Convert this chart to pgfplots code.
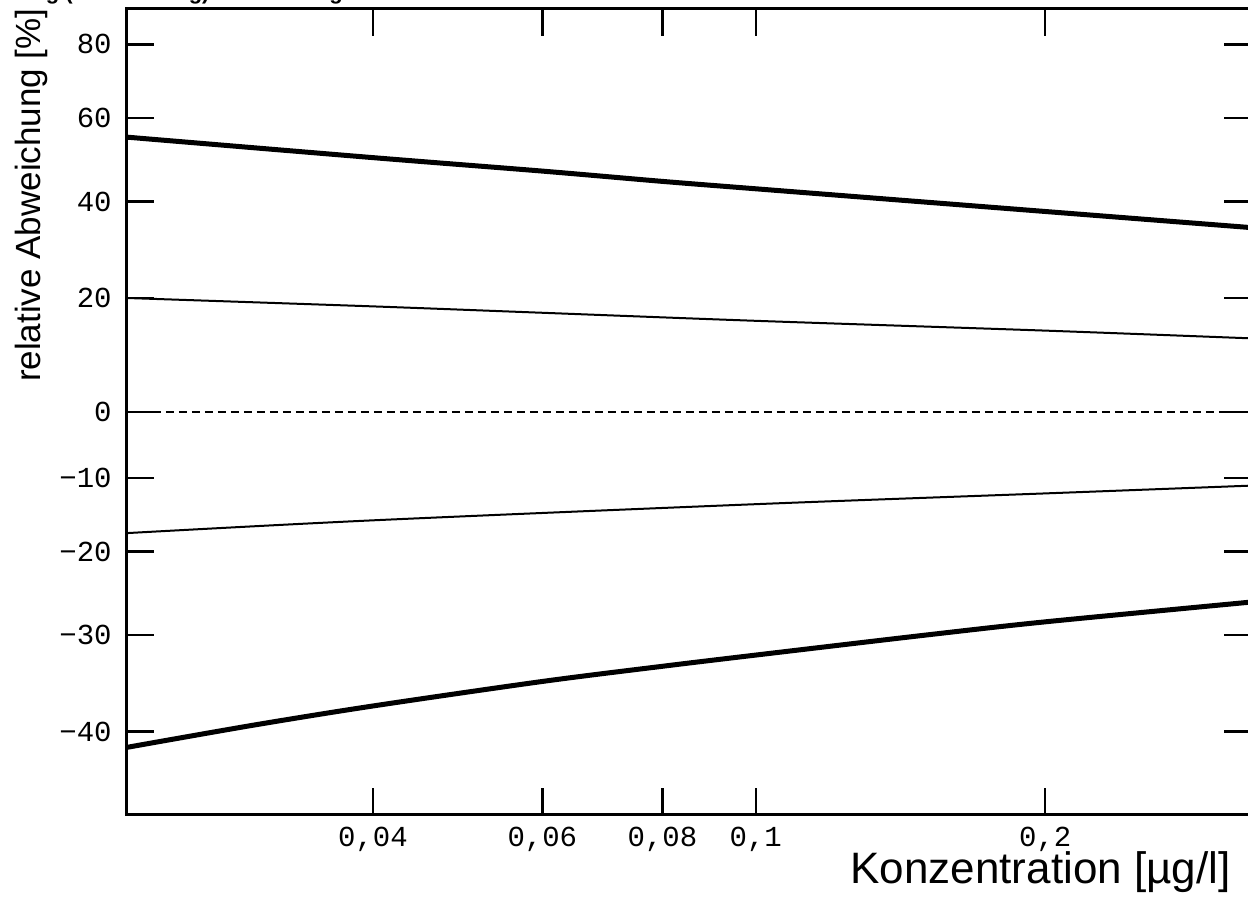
\documentclass[border=0pt]{standalone}
\usepackage{pgfplots}
\pgfplotsset{compat=1.18}
\usepackage{pgfplotstable}
\usepackage{fontspec}
\setmainfont{Liberation Sans}
\newfontfamily\monofont{Liberation Mono}

\pgfplotstableread{
x p
0.0222 55.2
0.04 50.2
0.06 47.0
0.08 44.6
0.1 42.9
0.2 37.8
0.3273 34.3
}\upperthick
\pgfplotstableread{
x p
0.0222 20.0
0.04 18.4
0.06 17.2
0.1 15.7
0.2 13.9
0.3273 12.5
}\upperthin
\pgfplotstableread{
x p
0.0222 -17.6
0.04 -15.9
0.1 -13.7
0.2 -12.2
0.3273 -11.1
}\lowerthin
\pgfplotstableread{
x p
0.0222 -41.5
0.03 -39.4
0.04 -37.5
0.06 -35.0
0.08 -33.4
0.1 -32.2
0.15 -30.0
0.2 -28.5
0.3273 -26.2
}\lowerthick
\pgfplotstableread{
x p
0.0222 0
0.3273 0
}\zeroline

\begin{document}
\begin{tikzpicture}
\useasboundingbox (-63.5pt,-46.5pt) rectangle (560.5pt,407.5pt);
\begin{axis}[
  scale only axis,
  width=562pt, height=403pt,
  xmode=log, ymode=log,
  xmin=0.0222, xmax=0.3273,
  ymin=0.525, ymax=1.905,
  axis line style={line width=1.5pt},
  tick style={line width=1.2pt, black},
  major tick length=13.5pt,
  tick align=inside,
  xtick pos=both, ytick pos=both,
  xticklabel pos=lower, yticklabel pos=left,
  minor tick style={draw=none},
  xtick={0.04,0.06,0.08,0.1,0.2},
  xticklabels={{0,04},{0,06},{0,08},{0,1},{0,2}},
  ytick={0.6,0.7,0.8,0.9,1,1.2,1.4,1.6,1.8},
  yticklabels={−40,−30,−20,−10,0,20,40,60,80},
  xticklabel style={font=\monofont\fontsize{14.5}{16}\selectfont, anchor=north, inner sep=0pt, yshift=-6pt},
  yticklabel style={font=\monofont\fontsize{14.5}{16}\selectfont, anchor=east, inner sep=0pt, xshift=-7.5pt},
  xlabel={Konzentration [µg/l]},
  ylabel={relative Abweichung [\%]},
  xlabel style={font=\fontsize{22}{25}\selectfont, at={(axis description cs:0.9822,-0.0856)}, anchor=base east, inner sep=0pt},
  ylabel style={font=\fontsize{17.5}{20}\selectfont, at={(axis description cs:-0.0767,0.769)}, anchor=base, inner sep=0pt},
]
\addplot[black, line width=2.5pt, smooth] table[x=x, y expr=1+\thisrow{p}/100] {\upperthick};
\addplot[black, line width=1pt, smooth] table[x=x, y expr=1+\thisrow{p}/100] {\upperthin};
\addplot[black, line width=1pt, dash pattern=on 4pt off 2.5pt] table[x=x, y expr=1+\thisrow{p}/100] {\zeroline};
\addplot[black, line width=1pt, smooth] table[x=x, y expr=1+\thisrow{p}/100] {\lowerthin};
\addplot[black, line width=2.5pt, smooth] table[x=x, y expr=1+\thisrow{p}/100] {\lowerthick};
\end{axis}
\node[anchor=base west, inner sep=0pt, font=\bfseries\fontsize{11}{13}\selectfont] at (-111pt,407.5pt) {Wiederfindung (Kalibrierung) Auswertung der Kontrolle};
\end{tikzpicture}
\end{document}
